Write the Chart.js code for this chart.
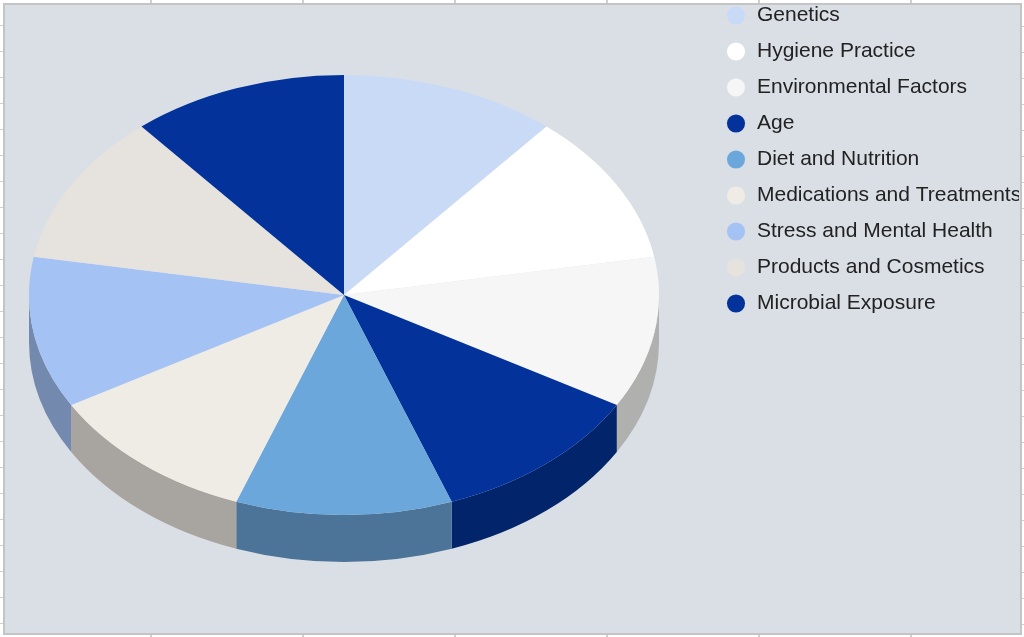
<!DOCTYPE html>
<html>
<head>
<meta charset="utf-8">
<title>Skin factors pie</title>
<script src="https://cdn.jsdelivr.net/npm/chart.js@4.4.1/dist/chart.umd.min.js"></script>
<style>
    html, body {
        margin: 0;
        padding: 0;
        width: 1024px;
        height: 637px;
        overflow: hidden;
        background: #ffffff;
    }
    .ticks-h {
        position: absolute;
        left: 0;
        width: 1024px;
        height: 3px;
        background-image: repeating-linear-gradient(to right, transparent 0 150px, #cfcfcf 150px 152px);
    }
    .ticks-v {
        position: absolute;
        top: 0;
        width: 3px;
        height: 637px;
        background-image: repeating-linear-gradient(to bottom, transparent 0 25px, #cfcfcf 25px 26px);
    }
    .panel {
        position: absolute;
        left: 3px;
        top: 3px;
        width: 1015px;
        height: 628px;
        background: #dadfe6;
        border: 2px solid #c4c4c4;
    }
    #chartWrap {
        position: absolute;
        left: 0;
        top: 0;
        width: 1019px;
        height: 637px;
        overflow: hidden;
    }
</style>
</head>
<body>
<div class="ticks-h" style="top:0"></div>
<div class="ticks-h" style="top:634px"></div>
<div class="ticks-v" style="left:0"></div>
<div class="ticks-v" style="left:1021px; background-position: 0 1px"></div>
<div class="panel"></div>
<div id="chartWrap"><canvas id="pieChart" width="1024" height="637"></canvas></div>

<script>
// data
const labels = [
    'Genetics',
    'Hygiene Practice',
    'Environmental Factors',
    'Age',
    'Diet and Nutrition',
    'Medications and Treatments',
    'Stress and Mental Health',
    'Products and Cosmetics',
    'Microbial Exposure'
];
const values = [1, 1, 1, 1, 1, 1, 1, 1, 1];

// top face colors and the darker wall colors
const topColors = ['#c9daf6', '#ffffff', '#f5f6f5', '#03339a', '#6ca7dc', '#efebe5', '#a4c2f4', '#e6e2dd', '#03339a'];
const sideColors = ['#8e9bb0', '#b3b3b3', '#b0b0ae', '#02246b', '#4c7398', '#a8a49f', '#7389ad', '#a29f9b', '#02246b'];

// where the flattened pie sits on the page
const PIE_CX = 344;
const PIE_CY = 295;
const PIE_RX = 315;
const PIE_RY = 220;
const PIE_DEPTH = 47;

// first legend circle center
const LEGEND_X = 736;
const LEGEND_Y = 15.5;

// squash the round pie into an ellipse and add the side wall
const pie3d = {
    id: 'pie3d',
    beforeDatasetsDraw(chart) {
        const ctx = chart.ctx;
        const arcs = chart.getDatasetMeta(0).data;
        if (!arcs.length) return;

        // side wall, only the front half (angles 0..PI) shows
        arcs.forEach((arc, i) => {
            const a1 = Math.max(arc.startAngle, 0);
            const a2 = Math.min(arc.endAngle, Math.PI);
            if (a2 <= a1) return;
            ctx.save();
            ctx.beginPath();
            ctx.moveTo(PIE_CX + PIE_RX * Math.cos(a1), PIE_CY + PIE_RY * Math.sin(a1));
            ctx.ellipse(PIE_CX, PIE_CY, PIE_RX, PIE_RY, 0, a1, a2);
            ctx.lineTo(PIE_CX + PIE_RX * Math.cos(a2), PIE_CY + PIE_DEPTH + PIE_RY * Math.sin(a2));
            ctx.ellipse(PIE_CX, PIE_CY + PIE_DEPTH, PIE_RX, PIE_RY, 0, a2, a1, true);
            ctx.closePath();
            ctx.fillStyle = sideColors[i];
            ctx.fill();
            ctx.restore();
        });

        const first = arcs[0];
        const r = first.outerRadius;
        ctx.save();
        ctx.translate(PIE_CX, PIE_CY);
        ctx.scale(PIE_RX / r, PIE_RY / r);
        ctx.translate(-first.x, -first.y);
    },
    afterDatasetsDraw(chart) {
        chart.ctx.restore();
    }
};

// move the legend up to the top right corner
const legendPlace = {
    id: 'legendPlace',
    afterLayout(chart) {
        const lg = chart.legend;
        const pad = lg.options.labels.padding;
        const boxW = lg.options.labels.boxWidth;
        const half = lg.options.labels.font.size / 2;
        lg.left = LEGEND_X - boxW / 2 - pad;
        lg.top = LEGEND_Y - half - pad;
        lg.right = lg.left + lg.width;
        lg.bottom = lg.top + lg.height;
    }
};

const ctxPie = document.getElementById('pieChart').getContext('2d');
new Chart(ctxPie, {
    type: 'pie',
    data: {
        labels: labels,
        datasets: [{
            data: values,
            backgroundColor: topColors,
            borderWidth: 0,
            clip: false
        }]
    },
    options: {
        responsive: false,
        animation: false,
        events: [],
        layout: { padding: 0 },
        plugins: {
            legend: {
                position: 'right',
                align: 'start',
                labels: {
                    usePointStyle: true,
                    pointStyle: 'circle',
                    boxWidth: 21,
                    boxHeight: 12.8,
                    padding: 15,
                    color: '#222222',
                    font: {
                        family: '"Liberation Sans", Arial, sans-serif',
                        size: 21
                    }
                }
            },
            tooltip: { enabled: false }
        }
    },
    plugins: [pie3d, legendPlace]
});
</script>
</body>
</html>
